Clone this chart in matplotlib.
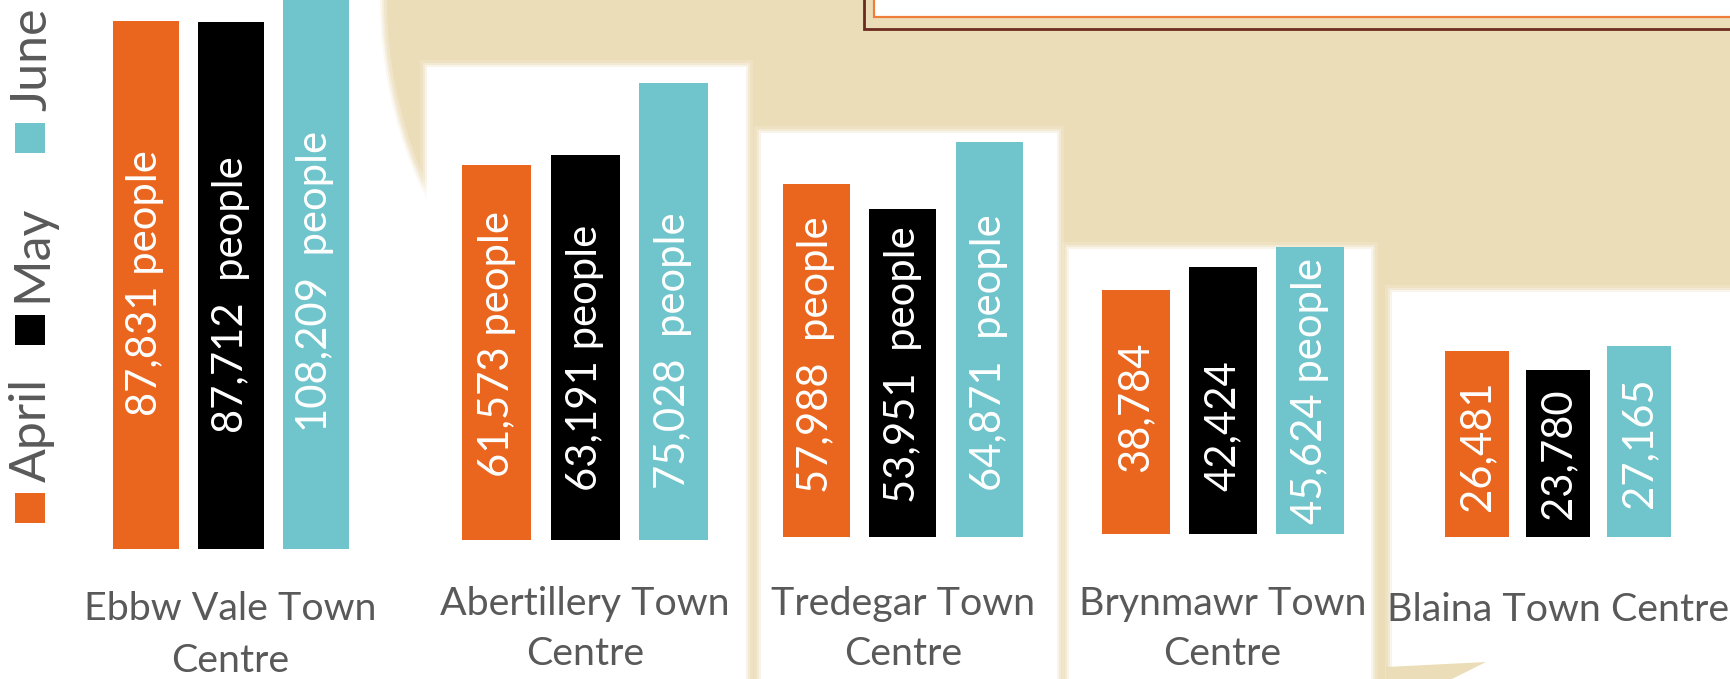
import matplotlib
matplotlib.use("Agg")
import matplotlib.pyplot as plt
from matplotlib.patches import Rectangle, Circle, Polygon
import matplotlib.transforms as mtransforms

# ---------------- data ----------------
towns = ["Ebbw Vale Town\nCentre", "Abertillery Town\nCentre", "Tredegar Town\nCentre",
         "Brynmawr Town\nCentre", "Blaina Town Centre"]
months = ["April", "May", "June"]
april = [87831, 61573, 57988, 38784, 26481]
may = [87712, 63191, 53951, 42424, 23780]
june = [108209, 75028, 64871, 45624, 27165]
label_suffix = [[" people", "  people", "  people"],
                [" people", " people", "  people"],
                ["  people", "  people", "  people"],
                ["", "", " people"],
                ["", "", ""]]

# ---------------- style / layout ----------------
W, H = 1730, 679
BEIGE = "#ECDDB9"
ORANGE = "#EA661E"
BLACK = "#000000"
TEAL = "#70C4CB"
GREY = "#595959"
colors = [ORANGE, BLACK, TEAL]

# per panel: first bar centre, bar spacing, bar width, baseline y (px from top), px per person
layout = [(145.5, 85.0, 66, 549, 0.006012),
          (496.5, 88.5, 69, 540, 0.00609),
          (816.0, 86.75, 67, 537, 0.006087),
          (1135.5, 87.0, 68, 534, 0.006291),
          (1477.0, 81.0, 64, 537, 0.007024)]
# value-label centre height above baseline (px), per bar
label_px = [[266, 254, 268], [196, 182, 189], [182, 172, 184],
            [127, 108, 143], [91, 83, 94]]
cat_baseline = [620, 615, 615, 615, 621]      # first line baseline of category label
cat_gap = [52, 50, 50, 50, 50]
panels = [(427, 67, 746, 700), (761, 133, 1057, 700), (1069, 249, 1371, 700),
          (1392, 292, 1745, 700)]

fig = plt.figure(figsize=(W / 100, H / 100), dpi=100)
fig.patch.set_facecolor(BEIGE)
bg = fig.add_axes([0, 0, 1, 1])
bg.set_xlim(0, W)
bg.set_ylim(H, 0)
bg.axis("off")
bg.set_zorder(0)

renderer = fig.canvas.get_renderer()


def fit(s, target, **kw):
    t = fig.text(0, 0, s, fontsize=20, **kw)
    w = t.get_window_extent(renderer=renderer).width
    t.remove()
    return 20 * target / w


def soft_rect(x0, y0, x1, y1):
    for e, a in [(7, 0.15), (4, 0.3), (2, 0.5)]:
        bg.add_patch(Rectangle((x0 - e, y0 - e), x1 - x0 + 2 * e, y1 - y0 + 2 * e,
                               facecolor="white", edgecolor="none", alpha=a))
    bg.add_patch(Rectangle((x0, y0), x1 - x0, y1 - y0, facecolor="white", edgecolor="none"))


# left white area with circular cut
CX, CR = 830, 446
bg.add_patch(Rectangle((-5, -5), 440, H + 10, facecolor="white", edgecolor="none"))
for e, a in [(4, 0.2), (2, 0.35), (0, 0.5)]:
    bg.add_patch(Circle((CX, 0), CR + e, facecolor=BEIGE, edgecolor="none", alpha=a))
bg.add_patch(Circle((CX, 0), CR - 3, facecolor=BEIGE, edgecolor="none"))

# top-right framed box
bg.add_patch(Rectangle((874, -10), W - 874 + 10, 26.7, facecolor="white",
                       edgecolor="#EF7E38", linewidth=1.6))
bg.plot([864, 864, W + 5], [-5, 29, 29], color="#6B2B1E", linewidth=2.0,
        solid_joinstyle="miter")

for p in panels:
    soft_rect(*p)
bg.add_patch(Polygon([(1386, 667), (1486, 662), (1440, 685), (1386, 685)],
                     facecolor=BEIGE, edgecolor="none"))

# legend (vertical)
leg_fs = fit("May", 97, family="Lato")
leg_sq = [(493, "April", 430), (315, "May", 253), (123, "June", 59)]
for (sq_y, name, ty), col in zip(leg_sq, colors):
    bg.add_patch(Rectangle((15, sq_y), 30, 30, facecolor=col, edgecolor="none"))
    bg.text(46, ty, name, rotation=90, rotation_mode="anchor", ha="center",
            va="baseline", fontsize=leg_fs, family="Lato", color=GREY)

cat_fs = fit("Ebbw Vale Town", 293, family="Lato")
bar_fs = fit("61,573 people", 266, family="Lato")

for i in range(5):
    c0, sp, bw, base, scale = layout[i]
    ax = fig.add_axes([(c0 - sp / 2) / W, (H - base) / H, 3 * sp / W, base / H])
    ax.set_zorder(2)
    ax.set_xlim(-0.5, 2.5)
    ax.set_ylim(0, base / scale)
    ax.axis("off")
    ax.patch.set_alpha(0)
    vals = [april[i], may[i], june[i]]
    ax.bar(range(3), vals, width=bw / sp, color=colors, linewidth=0)
    for j, v in enumerate(vals):
        ax.text(j, label_px[i][j] / scale, f"{v:,}" + label_suffix[i][j], rotation=90,
                ha="center", va="center", color="white", fontsize=bar_fs,
                family="Lato", clip_on=False)
    tr = mtransforms.blended_transform_factory(ax.transData, bg.transData)
    for k, line in enumerate(towns[i].split("\n")):
        ax.text(1, cat_baseline[i] + k * cat_gap[i], line, transform=tr, ha="center",
                va="baseline", fontsize=cat_fs, family="Lato", color=GREY,
                clip_on=False)

fig.savefig("out.png", dpi=100, facecolor=BEIGE)
